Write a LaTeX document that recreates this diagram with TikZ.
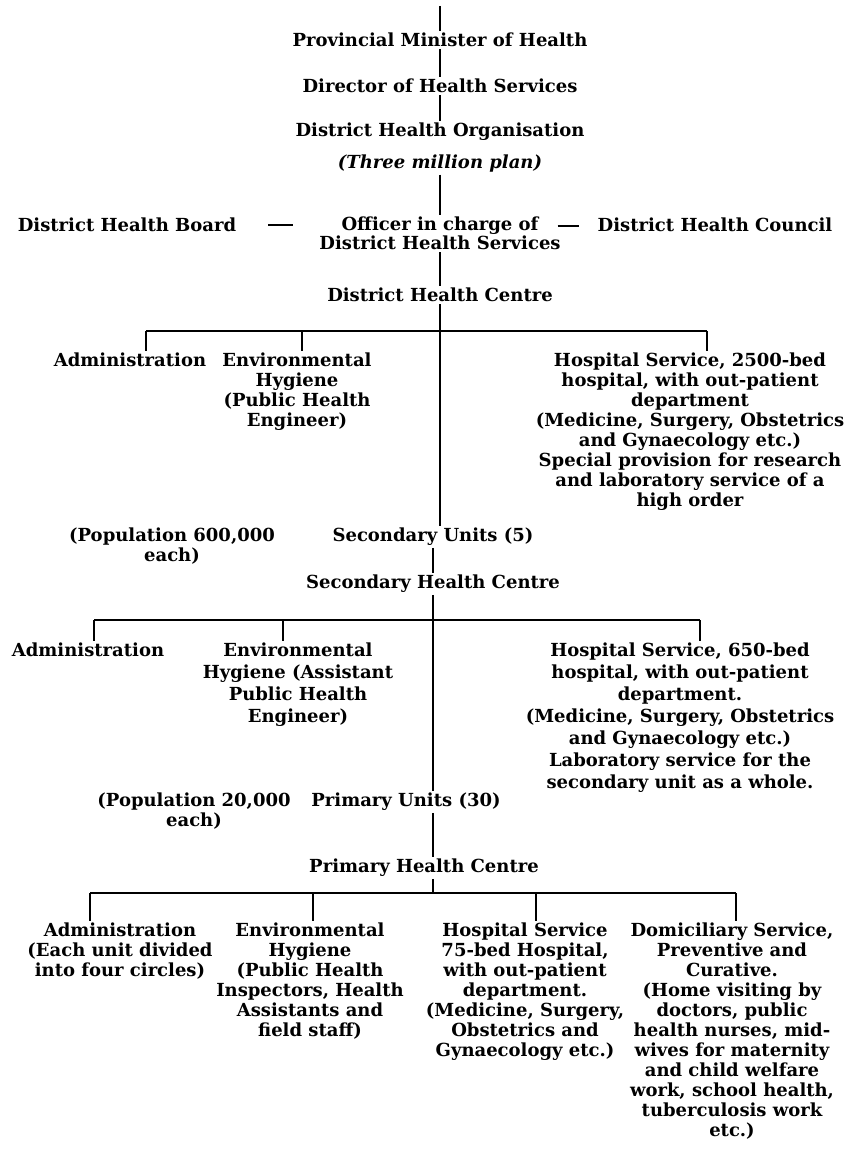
\documentclass[tikz,border=0pt]{standalone}
\usepackage{fontspec}
\setmainfont{DejaVu Serif}

\begin{document}
\begin{tikzpicture}[x=1pt, y=-1pt, line width=1.2pt,
    every node/.style={font=\bfseries\fontsize{18}{20}\selectfont, align=center, anchor=north, inner sep=1.5pt},
    wide/.style={font=\bfseries\fontsize{18}{22}\selectfont},
    bar/.style={line width=1.6pt},
    tie/.style 2 args={shorten <=#1, shorten >=#2}]
                \path[use as bounding box, fill=white] (0,0) rectangle (846,1161);

                \coordinate (top) at (440,6);
                \node (pmh) at (440,31) {Provincial Minister of Health};
                \node (dhs) at (440,77) {Director of Health Services};
                \node (dho) at (440,121) {District Health Organisation\\[12pt]\itshape (Three million plan)};
                \node (board) at (127,216) {District Health Board};
                \node (off1) at (440,215) {Officer in charge of};
                \node (off2) at (440,234) {District Health Services};
                \node (council) at (715,216) {District Health Council};
                \node (dhc) at (440,286) {District Health Centre};

                \coordinate (d1adm) at (146,331);
                \coordinate (d1env) at (302,331);
                \coordinate (d1mid) at (440,331);
                \coordinate (d1hos) at (707,331);
                \node (adm1) at (130,351) {Administration};
                \node (env1) at (297,351) {Environmental\\Hygiene\\(Public Health\\Engineer)};
                \node (hos1) at (690,351) {Hospital Service, 2500-bed\\hospital, with out-patient\\department\\(Medicine, Surgery, Obstetrics\\and Gynaecology etc.)\\Special provision for research\\and laboratory service of a\\high order};
                \node (pop1) at (172,526) {(Population 600,000\\each)};
                \node (secu) at (433,526) {Secondary Units (5)};
                \node (shc) at (433,573) {Secondary Health Centre};

                \coordinate (d2adm) at (94,620);
                \coordinate (d2env) at (283,620);
                \coordinate (d2mid) at (433,620);
                \coordinate (d2hos) at (700,620);
                \node (adm2) at (88,641) {Administration};
                \node[wide] (env2) at (298,641) {Environmental\\Hygiene (Assistant\\Public Health\\Engineer)};
                \node[wide] (hos2) at (680,641) {Hospital Service, 650-bed\\hospital, with out-patient\\department.\\(Medicine, Surgery, Obstetrics\\and Gynaecology etc.)\\Laboratory service for the\\secondary unit as a whole.};
                \node (pop2) at (194,791) {(Population 20,000\\each)};
                \node (primu) at (406,791) {Primary Units (30)};
                \node (phc) at (424,857) {Primary Health Centre};

                \coordinate (d3adm) at (90,893);
                \coordinate (d3env) at (313,893);
                \coordinate (d3mid) at (433,893);
                \coordinate (d3hos) at (536,893);
                \coordinate (d3dom) at (736,893);
                \node (adm3) at (120,921) {Administration\\(Each unit divided\\into four circles)};
                \node (env3) at (310,921) {Environmental\\Hygiene\\(Public Health\\Inspectors, Health\\Assistants and\\field staff)};
                \node (hos3) at (525,921) {Hospital Service\\75-bed Hospital,\\with out-patient\\department.\\(Medicine, Surgery,\\Obstetrics and\\Gynaecology etc.)};
                \node (dom3) at (732,921) {Domiciliary Service,\\Preventive and\\Curative.\\(Home visiting by\\doctors, public\\health nurses, mid-\\wives for maternity\\and child welfare\\work, school health,\\tuberculosis work\\etc.)};

                \draw (top) -- (pmh);
                \draw (pmh) -- (dhs);
                \draw (dhs) -- (dho);
                \draw (dho) -- (off1);
                \draw[tie={30pt}{46pt}] (board.east) -- (board.east -| off1.west);
                \draw[tie={17pt}{17pt}] (off1.east) -- (off1.east -| council.west);
                \draw (off2) -- (dhc);
                \draw (dhc) -- (d1mid);
                \draw[bar] (d1adm) -- (d1hos);
                \draw (d1adm) -- (d1adm |- adm1.north);
                \draw (d1env) -- (d1env |- env1.north);
                \draw (d1hos) -- (d1hos |- hos1.north);
                \draw (d1mid) -- (d1mid |- secu.north);
                \draw (secu) -- (shc);
                \draw (shc) -- (d2mid);
                \draw[bar] (d2adm) -- (d2hos);
                \draw (d2adm) -- (d2adm |- adm2.north);
                \draw (d2env) -- (d2env |- env2.north);
                \draw (d2hos) -- (d2hos |- hos2.north);
                \draw (d2mid) -- (d2mid |- primu.north);
                \draw (primu.south -| d2mid) -- (phc.north -| d2mid);
                \draw (phc.south -| d3mid) -- (d3mid);
                \draw[bar] (d3adm) -- (d3dom);
                \draw (d3adm) -- (d3adm |- adm3.north);
                \draw (d3env) -- (d3env |- env3.north);
                \draw (d3hos) -- (d3hos |- hos3.north);
                \draw (d3dom) -- (d3dom |- dom3.north);
            \end{tikzpicture}
\end{document}
